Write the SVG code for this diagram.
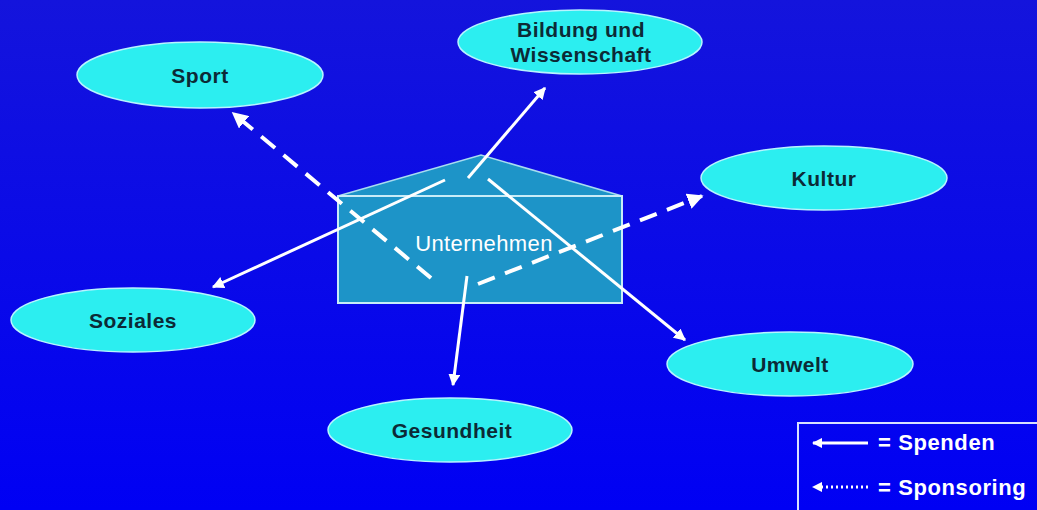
<svg xmlns="http://www.w3.org/2000/svg" width="1037" height="510" viewBox="0 0 1037 510">
<defs>
<linearGradient id="bg" x1="0" y1="0" x2="0" y2="1">
<stop offset="0" stop-color="#1414dc"/>
<stop offset="1" stop-color="#0000f4"/>
</linearGradient>
<marker id="ah" viewBox="0 0 10 10" refX="9" refY="5" markerWidth="4" markerHeight="4" orient="auto" markerUnits="strokeWidth">
<path d="M0,0 L10,5 L0,10 Z" fill="#ffffff"/>
</marker>
<marker id="ahs" viewBox="0 0 10 10" refX="9" refY="5" markerWidth="3.5" markerHeight="3.5" orient="auto" markerUnits="strokeWidth">
<path d="M0,0 L10,5 L0,10 Z" fill="#ffffff"/>
</marker>
</defs>
<style>
.node ellipse{fill:#2ceef0;stroke:#b8f4ff;stroke-width:1.5}
.lbl{font-family:"Liberation Sans",Arial,sans-serif;font-weight:bold;font-size:21px;fill:#0c2a36;text-anchor:middle;letter-spacing:0.5px}
.solid{stroke:#ffffff;stroke-width:3;fill:none;marker-end:url(#ah)}
.dash{stroke:#ffffff;stroke-width:4;fill:none;stroke-dasharray:18 11;marker-end:url(#ah)}
.leg{font-family:"Liberation Sans",Arial,sans-serif;font-weight:bold;font-size:22px;fill:#ffffff;letter-spacing:0.6px}
</style>
<rect width="1037" height="510" fill="url(#bg)"/>

<g id="sport" class="node"><ellipse cx="200" cy="75" rx="123" ry="33"/><text class="lbl" x="200" y="83">Sport</text></g>
<g id="bildung" class="node"><ellipse cx="580" cy="42" rx="122" ry="32"/><text class="lbl" x="581" y="37">Bildung und</text><text class="lbl" x="581" y="62">Wissenschaft</text></g>
<g id="kultur" class="node"><ellipse cx="824" cy="178" rx="123" ry="32"/><text class="lbl" x="824" y="186">Kultur</text></g>
<g id="soziales" class="node"><ellipse cx="133" cy="320" rx="122" ry="32"/><text class="lbl" x="133" y="328">Soziales</text></g>
<g id="umwelt" class="node"><ellipse cx="790" cy="364" rx="123" ry="32"/><text class="lbl" x="790" y="372">Umwelt</text></g>
<g id="gesundheit" class="node"><ellipse cx="450" cy="430" rx="122" ry="32"/><text class="lbl" x="452" y="438">Gesundheit</text></g>

<g id="unternehmen">
<polygon points="338,196 481,155 622,196" fill="#1d94c8" stroke="#a8dcf0" stroke-width="1.5"/>
<rect x="338" y="196" width="284" height="107" fill="#1d94c8" stroke="#c8ecf8" stroke-width="2"/>
<text x="484" y="251" font-family="'Liberation Sans',Arial,sans-serif" font-size="22" fill="#ffffff" text-anchor="middle" letter-spacing="0.4">Unternehmen</text>
</g>

<g id="connectors">
<line class="solid" x1="468" y1="178" x2="545" y2="88"/>
<line class="solid" x1="445" y1="180" x2="213" y2="287"/>
<line class="solid" x1="488" y1="179" x2="685" y2="340"/>
<line class="solid" x1="467" y1="276" x2="453" y2="385"/>
<line class="dash" x1="431" y1="278" x2="233" y2="113"/>
<line class="dash" x1="478" y1="284" x2="702" y2="196"/>
</g>

<g id="legend">
<rect x="798" y="423" width="250" height="100" fill="none" stroke="#d8e0ff" stroke-width="2"/>
<line x1="868" y1="443" x2="813" y2="443" stroke="#ffffff" stroke-width="3" marker-end="url(#ahs)"/>
<text class="leg" x="878" y="450">= Spenden</text>
<line x1="868" y1="487" x2="813" y2="487" stroke="#ffffff" stroke-width="3" stroke-dasharray="2 3" marker-end="url(#ahs)"/>
<text class="leg" x="878" y="495">= Sponsoring</text>
</g>
</svg>
